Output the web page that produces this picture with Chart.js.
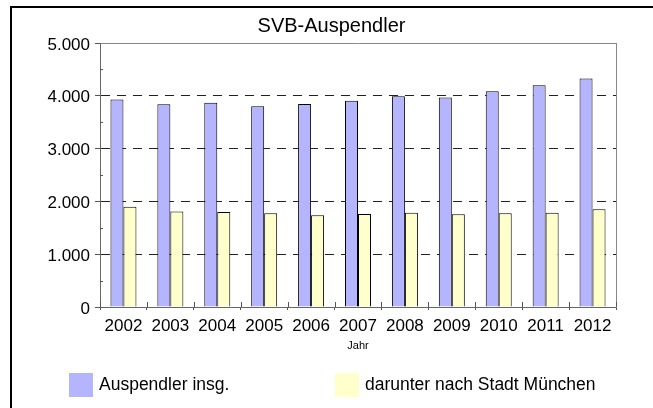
<!DOCTYPE html>
<html>
<head>
<meta charset="utf-8">
<script src="https://cdn.jsdelivr.net/npm/chart.js@4/dist/chart.umd.min.js"></script>
<style>
html,body{margin:0;padding:0;background:#fff;}
canvas{display:block;}
</style>
</head>
<body>
<canvas id="c" width="653" height="408"></canvas>
<script>
const chartTitle = 'SVB-Auspendler';
const axisTitle = 'Jahr';
const years = ['2002','2003','2004','2005','2006','2007','2008','2009','2010','2011','2012'];
const seriesNames = ['Auspendler insg.', 'darunter nach Stadt München'];
const auspendler = [3930, 3840, 3870, 3800, 3845, 3905, 3990, 3970, 4085, 4200, 4330];
const nachMuenchen = [1900, 1810, 1800, 1775, 1740, 1760, 1785, 1755, 1775, 1785, 1850];
const yTickLabels = ['0', '1.000', '2.000', '3.000', '4.000', '5.000'];

const FONT = "'Liberation Sans', Arial, sans-serif";
const BLUE = 'rgb(180,180,255)';
const YELLOW = 'rgb(255,255,204)';

const decor = {
  id: 'decor',
  beforeDraw(chart) {
    const c = chart.ctx;
    c.save();
    c.fillStyle = '#fff';
    c.fillRect(0, 0, chart.width, chart.height);
    c.restore();
  },
  afterDraw(chart) {
    const c = chart.ctx;
    const ca = chart.chartArea;
    const x = chart.scales.x, y = chart.scales.y;
    c.save();
    // outer frame
    c.strokeStyle = '#000';
    c.lineWidth = 2;
    c.beginPath();
    c.moveTo(11, chart.height);
    c.lineTo(11, 7);
    c.lineTo(chart.width, 7);
    c.stroke();
    // minor y ticks (inward)
    c.strokeStyle = '#555';
    c.lineWidth = 1;
    y.ticks.forEach(t => {
      if (t.value % 1000 !== 0) {
        const py = Math.round(y.getPixelForValue(t.value)) + 0.5;
        c.beginPath();
        c.moveTo(ca.left, py);
        c.lineTo(ca.left + 3, py);
        c.stroke();
      }
    });
    // x ticks upward part at category boundaries
    const n = years.length;
    for (let i = 0; i <= n; i++) {
      let px;
      if (i === 0) px = x.left;
      else if (i === n) px = x.right;
      else px = (x.getPixelForValue(i - 1) + x.getPixelForValue(i)) / 2;
      px = Math.round(px) + 0.5;
      c.beginPath();
      c.moveTo(px, ca.bottom);
      c.lineTo(px, ca.bottom - 5);
      c.stroke();
    }
    // legend
    const boxX = [69, 335];
    chart.data.datasets.forEach((ds, i) => {
      c.fillStyle = ds.backgroundColor;
      c.fillRect(boxX[i], 373, 24, 24);
      c.fillStyle = '#000';
      c.font = '17.5px ' + FONT;
      c.textBaseline = 'alphabetic';
      c.textAlign = 'left';
      c.fillText(ds.label, boxX[i] + 30, 390);
    });
    c.restore();
  }
};

new Chart(document.getElementById('c'), {
  type: 'bar',
  data: {
    labels: years,
    datasets: [
      { label: seriesNames[0], data: auspendler, backgroundColor: BLUE, borderColor: '#000', borderWidth: 1 },
      { label: seriesNames[1], data: nachMuenchen, backgroundColor: YELLOW, borderColor: '#000', borderWidth: 1 }
    ]
  },
  options: {
    responsive: false,
    animation: false,
    events: [],
    layout: { padding: { left: 10, right: 0, top: 0, bottom: 0 } },
    datasets: { bar: { categoryPercentage: 0.554, barPercentage: 1 } },
    plugins: {
      legend: { display: false },
      tooltip: { enabled: false },
      title: {
        display: true,
        text: chartTitle,
        color: '#000',
        font: { family: FONT, size: 20, weight: 'normal', lineHeight: 1.2 },
        padding: { top: 14.5, bottom: 4.5 }
      }
    },
    scales: {
      x: {
        grid: { drawOnChartArea: false, offset: true, tickLength: 3, tickColor: '#555', lineWidth: 1 },
        border: { color: '#666', width: 1 },
        ticks: { font: { family: FONT, size: 17 }, color: '#000', padding: 6, maxRotation: 0, autoSkip: false },
        title: { display: true, text: axisTitle, color: '#000', font: { family: FONT, size: 11, lineHeight: 1.2 }, padding: { top: 0, bottom: 55 } },
        afterFit: s => { s.height = 101; }
      },
      y: {
        min: 0, max: 5000,
        ticks: {
          stepSize: 500, autoSkip: false,
          font: { family: FONT, size: 17 }, color: '#000', padding: 5, labelOffset: 2,
          callback: v => (v % 1000 === 0 ? yTickLabels[v / 1000] : '')
        },
        grid: {
          lineWidth: 1, tickLength: 5,
          color: ctx => {
            const v = ctx.tick ? ctx.tick.value : -1;
            if (v === 5000) return '#888';
            if (v === 0) return '#666';
            if (v % 1000 === 0) return '#222';
            return 'rgba(0,0,0,0)';
          },
          tickColor: ctx => (ctx.tick && ctx.tick.value % 1000 === 0 ? '#555' : 'rgba(0,0,0,0)')
        },
        border: {
          color: '#666', width: 1,
          dash: ctx => {
            const v = ctx.tick ? ctx.tick.value : -1;
            return (v > 0 && v < 5000 && v % 1000 === 0) ? [9, 7] : [];
          }
        },
        afterFit: s => { s.width = 90; }
      },
      y2: {
        type: 'linear', position: 'right', display: true,
        grid: { display: false },
        ticks: { display: false },
        border: { display: true, color: '#888', width: 1 },
        afterFit: s => { s.width = 37; }
      }
    }
  },
  plugins: [decor]
});
</script>
</body>
</html>
